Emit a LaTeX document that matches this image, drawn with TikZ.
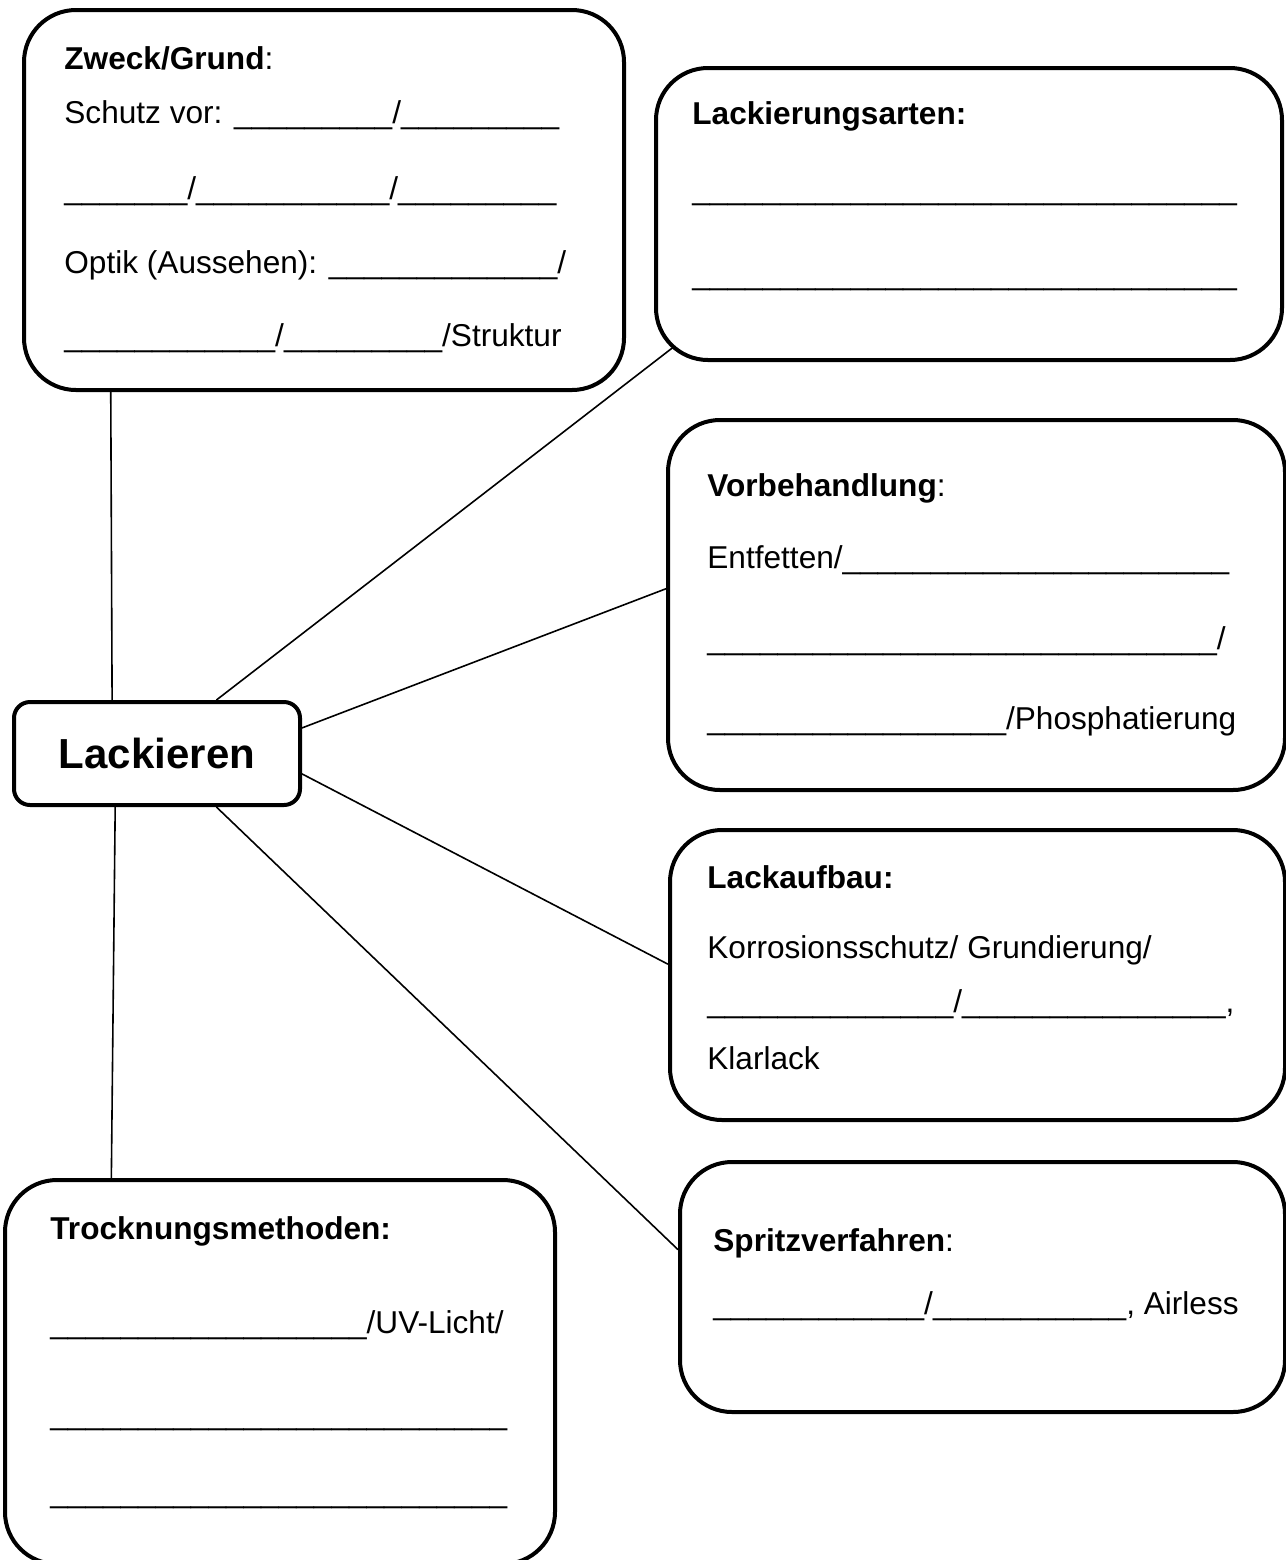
\documentclass[tikz,border=0pt]{standalone}
\usepackage{fontspec}
\setmainfont{Liberation Sans}
\usetikzlibrary{positioning,backgrounds,calc}

% row of blanks to fill in
\newcommand{\luecke}[1]{\foreach\n in {1,...,#1}{\_}}

\begin{document}
\begin{tikzpicture}[
  x=0.5pt, y=-0.5pt,
  karte/.style={draw, line width=2pt, rounded corners=26pt, fill=white, anchor=north west, inner sep=0pt},
  zeile/.style={anchor=base west, inner sep=0pt, font=\fontsize{15.8}{19}\selectfont},
  verbinder/.style={line width=0.8pt}
]
\useasboundingbox (0,0) rectangle (1286,1560);

% Central node
\node[draw, line width=2pt, rounded corners=8pt, fill=white, minimum width=143pt, minimum height=51.5pt,
  font=\bfseries\fontsize{21}{25}\selectfont] (lack) at (157,753.5) {Lackieren};

% Boxes around it
\node[karte, minimum width=300pt, minimum height=190pt] (zweck) at (22,8) {};
\node[karte, minimum width=313pt, minimum height=146pt] (arten) at (654,66) {};
\node[karte, minimum width=308.5pt, minimum height=185pt] (vorbeh) at (666,418) {};
\node[karte, minimum width=307.5pt, minimum height=145pt] (aufbau) at (668,828) {};
\node[karte, minimum width=302.5pt, minimum height=125pt] (spritz) at (678,1160) {};
\node[karte, minimum width=275pt, minimum height=192pt] (trock) at (3,1178) {};

% Connectors
\begin{scope}[on background layer]
\draw[verbinder] (lack.130) -- (zweck.222);
\draw[verbinder] (lack.42) -- ($(arten.south west)+(26,-20)$);
\draw[verbinder] (lack.10) -- (vorbeh.177);
\draw[verbinder] (lack.-8) -- (aufbau.178);
\draw[verbinder] (lack.-42) -- (spritz.173);
\draw[verbinder] (lack.232) -- (trock.131);
\end{scope}

% Zweck/Grund
\node[zeile] (zweck1) at (64,69) {\textbf{Zweck/Grund}:};
\node[zeile] (zweck2) at (64,123) {Schutz vor: \luecke{9}/\luecke{9}};
\node[zeile] (zweck3) at (64,199) {\luecke{7}/\luecke{11}/\luecke{9}};
\node[zeile] (zweck4) at (64,273) {Optik (Aussehen): \luecke{13}/};
\node[zeile] (zweck5) at (64,346) {\luecke{12}/\luecke{9}/Struktur};

% Lackierungsarten
\node[zeile] (arten1) at (692,124) {\textbf{Lackierungsarten:}};
\node[zeile] (arten2) at (692,199) {\luecke{31}};
\node[zeile] (arten3) at (692,284) {\luecke{31}};

% Vorbehandlung
\node[zeile] (vorbeh1) at (707,496) {\textbf{Vorbehandlung}:};
\node[zeile] (vorbeh2) at (707,568) {Entfetten/\luecke{22}};
\node[zeile] (vorbeh3) at (707,649) {\luecke{29}/};
\node[zeile] (vorbeh4) at (707,729) {\luecke{17}/Phosphatierung};

% Lackaufbau
\node[zeile] (aufbau1) at (707,888) {\textbf{Lackaufbau:}};
\node[zeile] (aufbau2) at (707,958) {Korrosionsschutz/ Grundierung/};
\node[zeile] (aufbau3) at (707,1012) {\luecke{14}/\luecke{15},};
\node[zeile] (aufbau4) at (707,1069) {Klarlack};

% Spritzverfahren
\node[zeile] (spritz1) at (713,1251) {\textbf{Spritzverfahren}:};
\node[zeile] (spritz2) at (713,1314) {\luecke{12}/\luecke{11}, Airless};

% Trocknungsmethoden
\node[zeile] (trock1) at (50,1239) {\textbf{Trocknungsmethoden:}};
\node[zeile] (trock2) at (50,1333) {\luecke{18}/UV-Licht/};
\node[zeile] (trock3) at (50,1424) {\luecke{26}};
\node[zeile] (trock4) at (50,1502) {\luecke{26}};

\end{tikzpicture}
\end{document}
